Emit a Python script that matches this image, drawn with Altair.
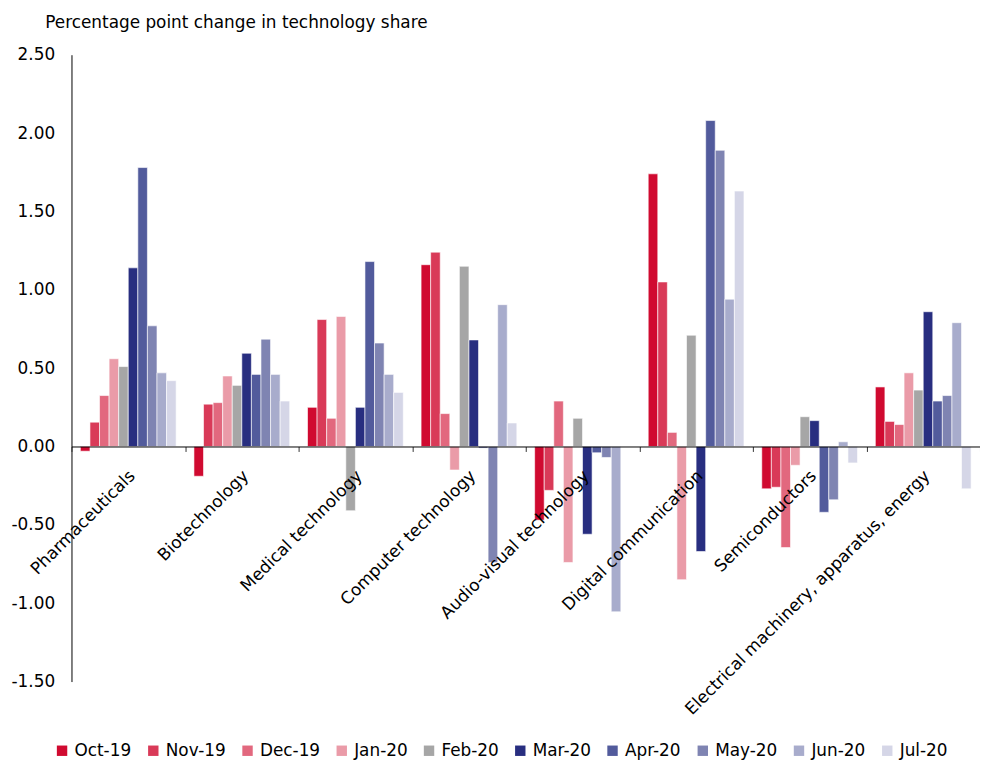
import altair as alt
import pandas as pd

categories = ["Pharmaceuticals", "Biotechnology", "Medical technology", "Computer technology",
              "Audio-visual technology", "Digital communication", "Semiconductors",
              "Electrical machinery, apparatus, energy"]
months = ["Oct-19", "Nov-19", "Dec-19", "Jan-20", "Feb-20", "Mar-20", "Apr-20", "May-20", "Jun-20", "Jul-20"]
colors = ["#D00A30", "#D93A58", "#E2687E", "#EA9BA8", "#A6A6A6",
          "#282E80", "#525B9C", "#7F84B2", "#A8ACCC", "#D5D6E7"]

oct19 = [-0.03, -0.19, 0.25, 1.16, -0.47, 1.74, -0.27, 0.38]
nov19 = [0.155, 0.27, 0.81, 1.24, -0.28, 1.05, -0.26, 0.16]
dec19 = [0.325, 0.28, 0.18, 0.21, 0.29, 0.09, -0.645, 0.14]
jan20 = [0.56, 0.45, 0.83, -0.15, -0.74, -0.85, -0.12, 0.47]
feb20 = [0.51, 0.39, -0.41, 1.15, 0.18, 0.71, 0.19, 0.36]
mar20 = [1.14, 0.595, 0.25, 0.68, -0.56, -0.67, 0.165, 0.86]
apr20 = [1.78, 0.46, 1.18, -0.01, -0.04, 2.08, -0.42, 0.29]
may20 = [0.77, 0.685, 0.66, -0.74, -0.07, 1.89, -0.34, 0.325]
jun20 = [0.47, 0.46, 0.46, 0.905, -1.055, 0.94, 0.03, 0.79]
jul20 = [0.42, 0.29, 0.345, 0.15, None, 1.63, -0.105, -0.27]

series = [oct19, nov19, dec19, jan20, feb20, mar20, apr20, may20, jun20, jul20]
rows = []
for m, vals in zip(months, series):
    for c, v in zip(categories, vals):
        if v is not None:
            rows.append({"category": c, "month": m, "value": v})
df = pd.DataFrame(rows)

FONT = "DejaVu Sans"
FS = 17

chart = alt.Chart(df).mark_bar(stroke="white", strokeWidth=0.6).encode(
    x=alt.X("category:N", sort=categories,
            scale=alt.Scale(paddingInner=0, paddingOuter=0),
            axis=alt.Axis(title=None, orient="bottom", offset=-237, zindex=1,
                          domainColor="black", domainWidth=1,
                          tickBand="extent", tickSize=5, tickColor="#333333",
                          labelAngle=315, labelAlign="right", labelBaseline="top",
                          labelPadding=16, labelOffset=-2, labelLimit=500,
                          labelOverlap=False, labelFont=FONT, labelFontSize=FS,
                          labelColor="black")),
    xOffset=alt.XOffset("month:N", sort=months,
                        scale=alt.Scale(paddingInner=0, paddingOuter=0.93)),
    y=alt.Y("value:Q",
            scale=alt.Scale(domain=[-1.5, 2.5], nice=False, zero=False),
            axis=alt.Axis(title="Percentage point change in technology share",
                          titleAngle=0, titleX=-27, titleY=-27, titleAlign="left",
                          titleBaseline="alphabetic", titleFont=FONT, titleFontSize=FS,
                          titleFontWeight="normal", titleColor="black",
                          values=[-1.5, -1.0, -0.5, 0.0, 0.5, 1.0, 1.5, 2.0, 2.5],
                          format=".2f", labelExpr="replace(datum.label, '\u2212', '-')",
                          grid=False, ticks=False,
                          domainColor="black", domainWidth=1,
                          labelPadding=17, labelFont=FONT, labelFontSize=FS,
                          labelColor="black")),
    color=alt.Color("month:N", sort=months,
                    scale=alt.Scale(domain=months, range=colors),
                    legend=alt.Legend(title=None, orient="none", legendX=-18, legendY=693,
                                      direction="horizontal", columns=10,
                                      symbolType="square", symbolSize=110,
                                      symbolStrokeWidth=0, labelOffset=4,
                                      columnPadding=13, labelFont=FONT,
                                      labelFontSize=FS, labelColor="black")),
).properties(
    width=916, height=632,
    autosize="none",
    padding={"left": 64, "top": 44, "right": 0, "bottom": 77},
).configure_view(stroke=None)

chart.save("out.html", embed_options={"renderer": "svg", "actions": False})
